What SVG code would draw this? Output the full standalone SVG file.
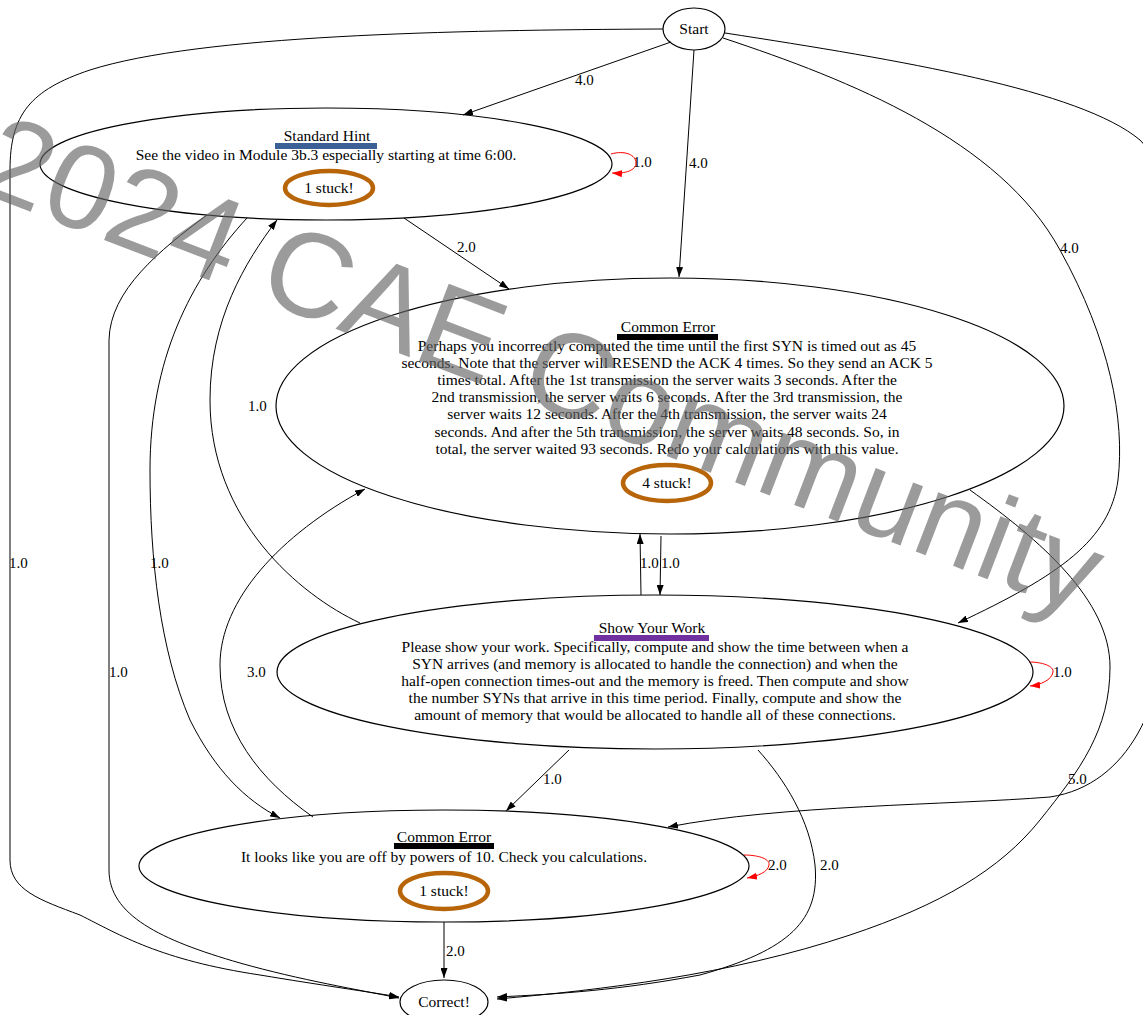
<svg xmlns="http://www.w3.org/2000/svg" width="1143" height="1015" viewBox="0 0 1143 1015">
<style>
.n{fill:none;stroke:#000;stroke-width:1.2}
.e{fill:none;stroke:#000;stroke-width:1}
.r{fill:none;stroke:#f00;stroke-width:1}
.t{font-family:"Liberation Serif","Times New Roman",serif;font-size:15.5px;fill:#000;text-anchor:middle}
.l{font-family:"Liberation Serif","Times New Roman",serif;font-size:15px;fill:#000}
.s{fill:none;stroke:#b8650a;stroke-width:4.5}
.wm{font-family:"Liberation Sans",Arial,sans-serif;font-size:120px;fill:#666;fill-opacity:0.65}
</style>
<defs>
<marker id="ah" viewBox="0 0 10 7" refX="10" refY="3.5" markerWidth="10" markerHeight="7" orient="auto" markerUnits="userSpaceOnUse"><path d="M0,0 L10,3.5 L0,7 z" fill="#000"/></marker>
<marker id="ar" viewBox="0 0 10 7" refX="10" refY="3.5" markerWidth="10" markerHeight="7" orient="auto" markerUnits="userSpaceOnUse"><path d="M0,0 L10,3.5 L0,7 z" fill="#f00"/></marker>
</defs>
<rect width="1143" height="1015" fill="#fff"/>
<g id="edges">
<path class="e" marker-end="url(#ah)" d="M671,42 L463,115"/>
<text class="l" x="575" y="85">4.0</text>
<path class="e" marker-end="url(#ah)" d="M694,50 L679,277"/>
<text class="l" x="689" y="168">4.0</text>
<path class="e" marker-end="url(#ah)" d="M723,38 C850,80 1000,140 1060,250 C1110,340 1125,420 1118,480 C1110,540 1060,575 958,623"/>
<text class="l" x="1060" y="253">4.0</text>
<path class="e" marker-end="url(#ah)" d="M725,33 C900,60 1080,90 1140,140 C1160,160 1165,200 1165,260 L1165,620 C1165,700 1130,785 1050,797 C950,805 780,805 668,827"/>
<path class="e" marker-end="url(#ah)" d="M663,29 C450,30 200,35 90,70 C30,90 10,115 10,170 L10,860 C10,890 40,900 80,915 C120,935 160,960 260,975 C320,985 370,992 399,997"/>
<text class="l" x="9" y="568">1.0</text>
<path class="r" marker-end="url(#ar)" d="M611,154 C625,150 636,155 636,163 C636,170 626,174 612,173"/>
<text class="l" x="633" y="167">1.0</text>
<path class="e" marker-end="url(#ah)" d="M404,218 L509,289"/>
<text class="l" x="457" y="252">2.0</text>
<path class="e" marker-end="url(#ah)" d="M207,215 C160,250 110,290 109,340 L109,870 C109,915 160,940 240,963 C300,980 360,990 399,998"/>
<text class="l" x="109" y="677">1.0</text>
<path class="e" marker-end="url(#ah)" d="M247,218 C190,280 150,360 150,470 C150,560 160,650 190,720 C215,770 245,800 280,818"/>
<text class="l" x="150" y="568">1.0</text>
<path class="e" marker-end="url(#ah)" d="M360,623 C300,595 210,520 210,400 C210,320 245,262 277,220"/>
<text class="l" x="248" y="411">1.0</text>
<path class="e" marker-end="url(#ah)" d="M313,817 C260,780 220,730 220,665 C220,600 280,535 365,489"/>
<text class="l" x="247" y="677">3.0</text>
<path class="e" marker-end="url(#ah)" d="M641,595 L640,534"/>
<text class="l" x="640" y="568">1.0</text>
<path class="e" marker-end="url(#ah)" d="M661,536 L660,595"/>
<text class="l" x="661" y="568">1.0</text>
<path class="r" marker-end="url(#ar)" d="M1029,662 C1042,662 1054,666 1053,672 C1052,680 1040,685 1030,686"/>
<text class="l" x="1053" y="677">1.0</text>
<path class="e" marker-end="url(#ah)" d="M569,750 L506,811"/>
<text class="l" x="543" y="784">1.0</text>
<path class="e" marker-end="url(#ah)" d="M758,750 C785,780 810,820 815,865 C820,920 790,950 700,975 C620,990 560,994 497,997"/>
<text class="l" x="820" y="870">2.0</text>
<path class="e" marker-end="url(#ah)" d="M970,490 C1040,540 1110,600 1110,667 C1110,730 1080,770 1040,820 C1000,870 940,905 850,935 C730,975 600,990 497,999"/>
<text class="l" x="1068" y="784">5.0</text>
<path class="e" marker-end="url(#ah)" d="M444,922 L444,978"/>
<text class="l" x="446" y="956">2.0</text>
<path class="r" marker-end="url(#ar)" d="M744,855 C756,855 770,858 769,865 C768,872 758,876 747,878"/>
<text class="l" x="768" y="870">2.0</text>
</g>
<g id="start">
<ellipse class="n" cx="694" cy="29" rx="31" ry="21" fill="#fff"/>
<text class="t" x="694" y="34">Start</text>
</g>
<g id="standard-hint">
<ellipse class="n" cx="326" cy="164" rx="286" ry="56" fill="none"/>
<rect x="275" y="143" width="102" height="6" fill="#3c5f96"/>
<text class="t" x="327" y="141">Standard Hint</text>
<text class="t" x="326" y="160">See the video in Module 3b.3 especially starting at time 6:00.</text>
<ellipse class="s" cx="329" cy="188" rx="44" ry="17"/>
<text class="t" x="329" y="193">1 stuck!</text>
</g>
<g id="common-error-1">
<ellipse class="n" cx="670" cy="406" rx="394" ry="128"/>
<rect x="617" y="334" width="101" height="6" fill="#000"/>
<text class="t" x="668" y="332">Common Error</text>
<text class="t" x="667" y="351">Perhaps you incorrectly computed the time until the first SYN is timed out as 45</text>
<text class="t" x="667" y="368">seconds. Note that the server will RESEND the ACK 4 times. So they send an ACK 5</text>
<text class="t" x="667" y="385">times total. After the 1st transmission  the server waits 3 seconds. After the</text>
<text class="t" x="667" y="402">2nd transmission, the server waits 6 seconds. After the 3rd transmission, the</text>
<text class="t" x="667" y="419">server waits 12 seconds. After the 4th transmission, the server waits 24</text>
<text class="t" x="667" y="437">seconds. And after the 5th transmission, the server waits 48 seconds. So, in</text>
<text class="t" x="667" y="454">total, the server waited 93 seconds. Redo your calculations with this value.</text>
<ellipse class="s" cx="667" cy="483" rx="44" ry="18"/>
<text class="t" x="667" y="488">4 stuck!</text>
</g>
<g id="show-your-work">
<ellipse class="n" cx="655" cy="672" rx="378" ry="77"/>
<rect x="594" y="635" width="115" height="6" fill="#7030a0"/>
<text class="t" x="652" y="633">Show Your Work</text>
<text class="t" x="655" y="652">Please show your work. Specifically,  compute and show the time between when a</text>
<text class="t" x="655" y="669">SYN arrives (and memory is allocated to handle the connection) and when the</text>
<text class="t" x="655" y="686">half-open connection times-out and the memory is freed. Then compute and show</text>
<text class="t" x="655" y="703">the number SYNs that arrive in this time period. Finally,  compute and show the</text>
<text class="t" x="655" y="720">amount of memory that would be allocated to handle all of these connections.</text>
</g>
<g id="common-error-2">
<ellipse class="n" cx="444" cy="866" rx="305" ry="56"/>
<rect x="394" y="843" width="100" height="6" fill="#000"/>
<text class="t" x="444" y="842">Common Error</text>
<text class="t" x="444" y="862">It looks like you are off by powers of 10. Check you calculations.</text>
<ellipse class="s" cx="444" cy="891" rx="44" ry="18"/>
<text class="t" x="444" y="896">1 stuck!</text>
</g>
<g id="correct">
<ellipse class="n" cx="444" cy="1002" rx="44" ry="22" fill="#fff"/>
<text class="t" x="444" y="1007">Correct!</text>
</g>
<text class="wm" transform="translate(-26,190) rotate(21)">2024 CAE Community</text>
</svg>
